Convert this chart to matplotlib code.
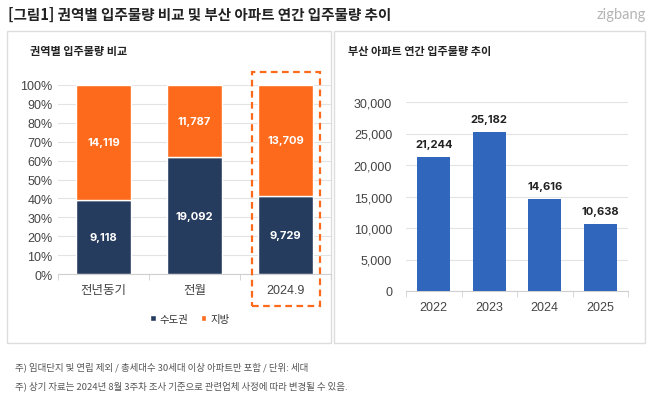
import matplotlib.pyplot as plt
import matplotlib.patches as mpatches
import numpy as np

plt.rcParams['font.family'] = ['Liberation Sans', 'Noto Sans CJK KR', 'DejaVu Sans']
KR = ['Noto Sans CJK KR', 'DejaVu Sans']
NUM = ['Inter', 'DejaVu Sans']

# left panel data
periods = ['전년동기', '전월', '2024.9']
capital = [9118, 19092, 9729]
regional = [14119, 11787, 13709]

# right panel data
years = ['2022', '2023', '2024', '2025']
busan = [21244, 25182, 14616, 10638]

W, H = 658, 402
NAVY = '#263c5e'
ORANGE = '#fd6a1c'
BLUE = '#3067bd'
TICK = '#444444'
GRID = '#e3e3e3'


def rect(x0, y0, x1, y1):
    # pixel box (top-left origin) -> figure fraction
    return [x0 / W, 1 - y1 / H, (x1 - x0) / W, (y1 - y0) / H]


fig = plt.figure(figsize=(W / 100, H / 100), dpi=100)
fig.patch.set_facecolor('white')

# header
fig.text(8 / W, 1 - 15 / H, '[그림1] 권역별 입주물량 비교 및 부산 아파트 연간 입주물량 추이',
         fontsize=10.5, fontweight='bold', color='#222222', va='center', ha='left', family=KR)
fig.text(646 / W, 1 - 15 / H, 'zigbang', fontsize=10.5, color='#b5b5b5',
         va='center', ha='right', family=['Lato'])

# panel boxes (behind the axes)
for box in [(7, 32, 331, 344), (334, 32, 645, 344)]:
    x0, y0, x1, y1 = box
    fig.patches.append(mpatches.Rectangle((x0 / W, 1 - y1 / H), (x1 - x0) / W, (y1 - y0) / H,
                                          transform=fig.transFigure, facecolor='white',
                                          edgecolor='#dddddd', linewidth=1, zorder=-5))

fig.text(30 / W, 1 - 52 / H, '권역별 입주물량 비교', fontsize=8, fontweight='bold',
         color='#222222', va='center', family=KR)
fig.text(348 / W, 1 - 52 / H, '부산 아파트 연간 입주물량 추이', fontsize=8, fontweight='bold',
         color='#222222', va='center', family=KR)

# ---- left: 100% stacked bars
ax1 = fig.add_axes(rect(58, 86, 331, 275))
cap = np.array(capital, dtype=float)
reg = np.array(regional, dtype=float)
tot = cap + reg
x = np.arange(len(periods))
b1 = ax1.bar(x, cap / tot, width=0.6, color=NAVY, edgecolor='white', linewidth=1, label='수도권', zorder=3)
b2 = ax1.bar(x, reg / tot, bottom=cap / tot, width=0.6, color=ORANGE, edgecolor='white',
             linewidth=1, label='지방', zorder=3)
for i in range(len(x)):
    ax1.text(x[i], cap[i] / tot[i] / 2, f'{capital[i]:,}', ha='center', va='center',
             color='white', fontsize=8, fontweight='bold', zorder=4, family=NUM)
    ax1.text(x[i], cap[i] / tot[i] + reg[i] / tot[i] / 2, f'{regional[i]:,}', ha='center',
             va='center', color='white', fontsize=8, fontweight='bold', zorder=4, family=NUM)
ax1.set_xlim(-0.5, len(x) - 0.5)
ax1.set_ylim(0, 1)
ax1.set_yticks(np.arange(0, 1.01, 0.1))
ax1.set_yticklabels([f'{int(round(v * 100))}%' for v in np.arange(0, 1.01, 0.1)])
ax1.set_xticks(x)
ax1.set_xticklabels(periods)
ax1.set_xticks(np.arange(-0.5, len(x), 1), minor=True)
ax1.grid(axis='y', color=GRID, linewidth=0.8, zorder=0)
ax1.set_axisbelow(True)
for s in ['top', 'right', 'left']:
    ax1.spines[s].set_visible(False)
ax1.spines['bottom'].set_color('#d0d0d0')
ax1.tick_params(axis='y', length=0, labelsize=9, labelcolor=TICK, pad=4)
ax1.tick_params(axis='x', which='major', length=0, labelsize=9, labelcolor=TICK, pad=7)
ax1.tick_params(axis='x', which='minor', length=4, color='#d0d0d0')
ax1.patch.set_alpha(0)

leg = fig.legend(handles=[b1, b2], loc='center', bbox_to_anchor=(190 / W, 1 - 320 / H),
                 ncol=2, frameon=False, fontsize=7.5, handlelength=0.5, handleheight=0.5,
                 handletextpad=0.4, columnspacing=1.2)
for t in leg.get_texts():
    t.set_color('#333333')

# dashed highlight around the latest period
fig.patches.append(mpatches.Rectangle((252 / W, 1 - 307 / H), 68 / W, 234 / H,
                                      transform=fig.transFigure, fill=False,
                                      edgecolor=ORANGE, linestyle=(0, (3, 2)),
                                      linewidth=1.6, zorder=5))

# ---- right: Busan yearly bars
ax2 = fig.add_axes(rect(406, 103, 628, 292))
x2 = np.arange(len(years))
ax2.bar(x2, busan, width=0.59, color=BLUE, zorder=3)
for i, v in enumerate(busan):
    ax2.text(x2[i], v + 1300, f'{v:,}', ha='center', va='bottom', fontsize=8,
             fontweight='bold', color='#222222', family=NUM)
ax2.set_xlim(-0.5, len(years) - 0.5)
ax2.set_ylim(0, 30000)
ax2.set_yticks(np.arange(0, 30001, 5000))
ax2.set_yticklabels([f'{v:,}' for v in range(0, 30001, 5000)])
ax2.set_xticks(x2)
ax2.set_xticklabels(years)
ax2.set_xticks(np.arange(-0.5, len(years), 1), minor=True)
ax2.grid(axis='y', color=GRID, linewidth=0.8, zorder=0)
ax2.set_axisbelow(True)
for s in ['top', 'right', 'left']:
    ax2.spines[s].set_visible(False)
ax2.spines['bottom'].set_color('#d0d0d0')
ax2.tick_params(axis='y', length=0, labelsize=9, labelcolor=TICK, pad=10)
ax2.tick_params(axis='x', which='major', length=0, labelsize=9, labelcolor=TICK, pad=7)
ax2.tick_params(axis='x', which='minor', length=4, color='#d0d0d0')
ax2.patch.set_alpha(0)

# footnotes
fig.text(15 / W, 1 - 367 / H, '주) 임대단지 및 연립 제외 / 총세대수 30세대 이상 아파트만 포함 / 단위: 세대',
         fontsize=6.8, color='#555555', va='center', family=KR)
fig.text(15 / W, 1 - 386 / H, '주) 상기 자료는 2024년 8월 3주차 조사 기준으로 관련업체 사정에 따라 변경될 수 있음.',
         fontsize=6.8, color='#555555', va='center', family=KR)

fig.savefig('out.png', dpi=100, facecolor='white')
